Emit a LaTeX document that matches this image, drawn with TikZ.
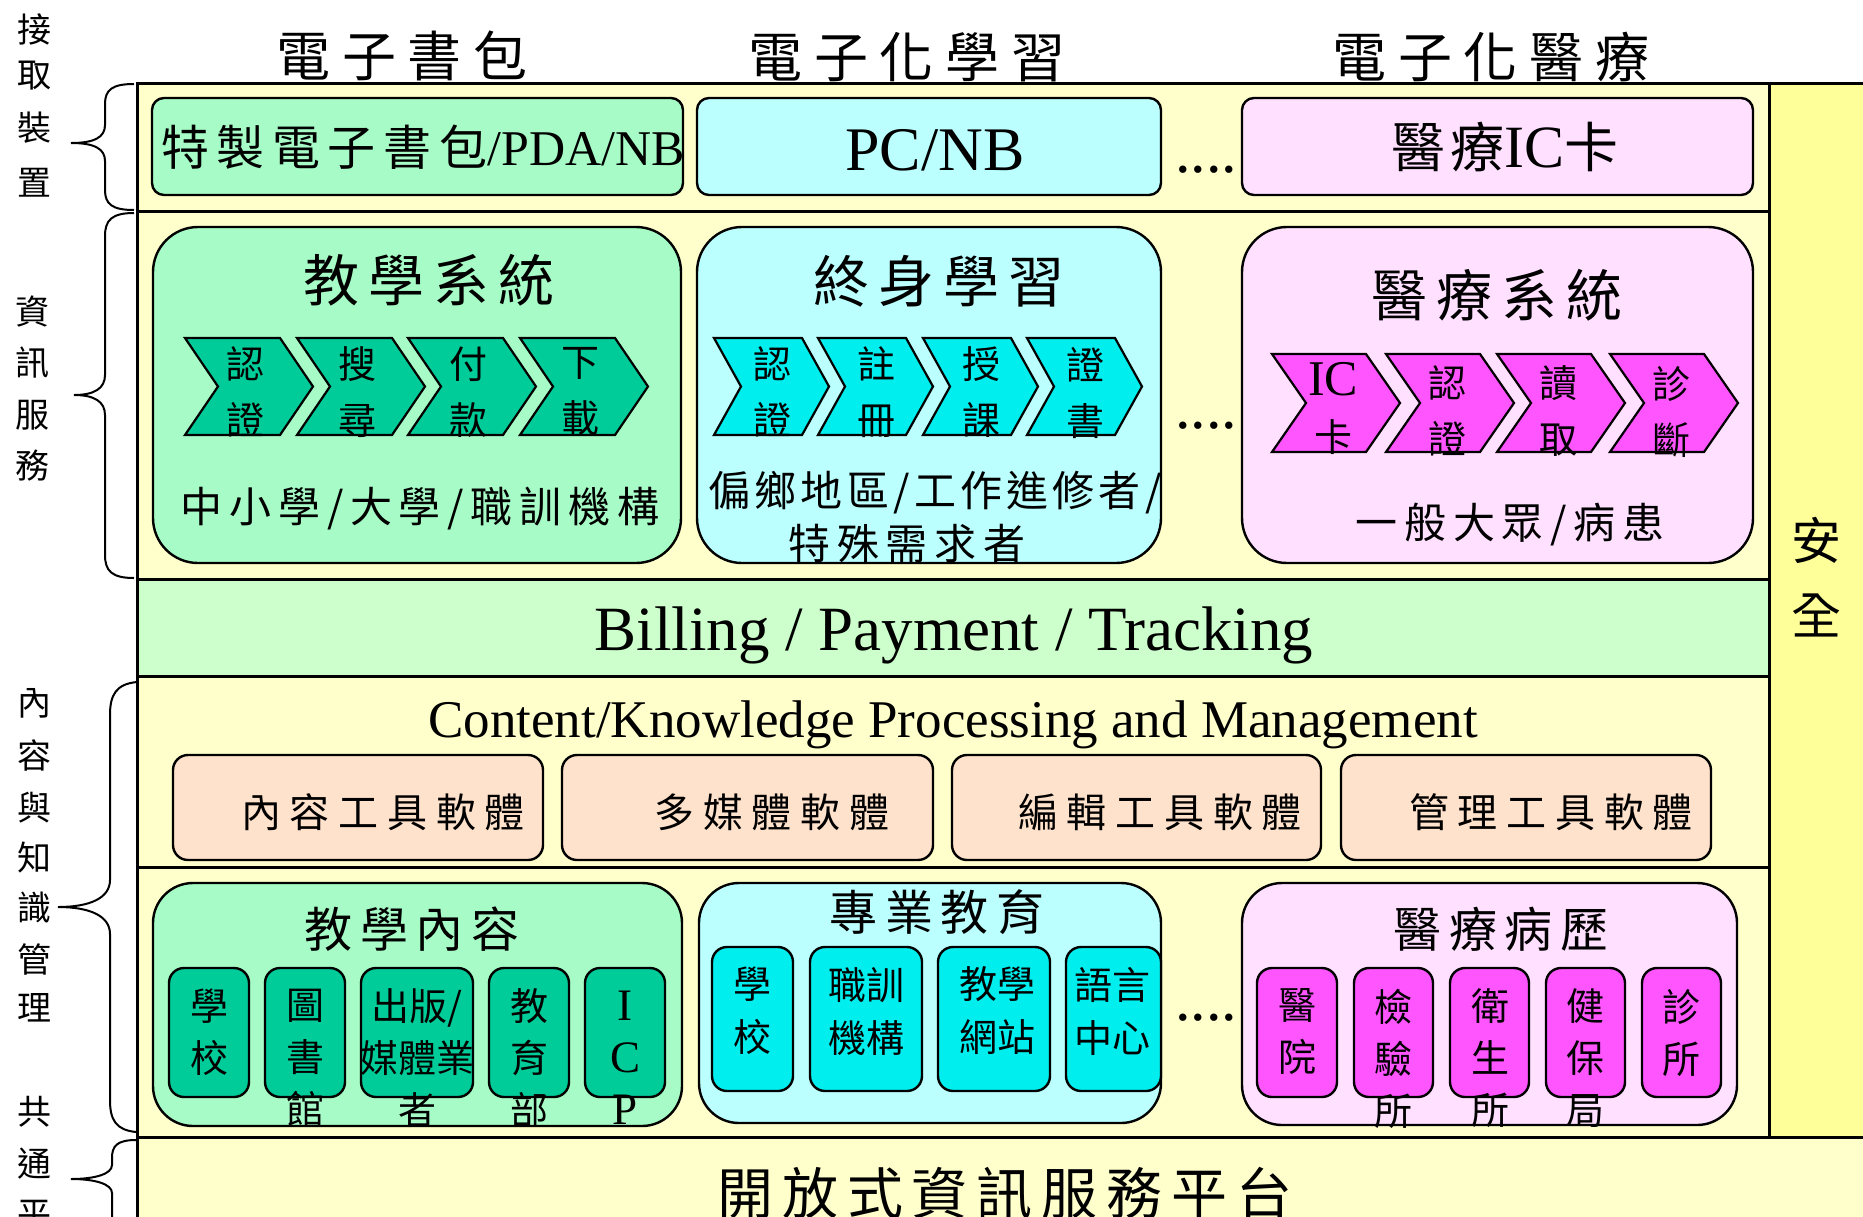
\documentclass[tikz,border=0pt]{standalone}
\usepackage{fontspec}
\setmainfont{Liberation Serif}
\newfontfamily\cjk{Noto Sans CJK TC}
\newfontfamily\cjkw{Noto Sans CJK TC}[LetterSpace=16]
\newfontfamily\cjkx{Noto Sans CJK TC}[LetterSpace=22]
\newfontfamily\cjkm{Noto Sans CJK TC}[LetterSpace=10]
\usetikzlibrary{fit}
\newcommand\fsz[2]{\fontsize{#1}{#2}\selectfont}
\definecolor{bgY}{RGB}{255,255,204}
\definecolor{secY}{RGB}{255,255,153}
\definecolor{lgreen}{RGB}{166,251,198}
\definecolor{bill}{RGB}{204,255,204}
\definecolor{lcyan}{RGB}{187,255,255}
\definecolor{lpink}{RGB}{255,224,255}
\definecolor{dgreen}{RGB}{0,204,153}
\definecolor{dcyan}{RGB}{0,238,238}
\definecolor{dmag}{RGB}{255,85,255}
\definecolor{peach}{RGB}{255,226,204}
\tikzset{
  every node/.style={inner sep=0pt, outer sep=0pt},
  band/.style={draw=black, line width=3pt},
  card/.style={draw=black, line width=2.4pt, rounded corners=#1},
  card/.default=12pt,
  chevline/.style={draw=black, line width=2.2pt, line join=miter},
  bracel/.style={draw=black, line width=2pt},
  side/.style={font=\cjk\fsz{34}{40}},
  bigtitle/.style={font=\cjkx\fsz{54}{60}},
  boxtitle/.style={font=\cjkw\fsz{56}{62}},
  subtitle/.style={font=\cjkw\fsz{42}{48}},
  chevtext/.style={anchor=north, align=center, font=\cjk\fsz{38}{56}},
  subtext/.style={anchor=north, align=center, font=\cjk\fsz{38}{52}},
  toolt/.style={font=\cjkx\fsz{40}{46}},
  dots/.style={anchor=base, font=\fsz{62}{64}},
}
\newcommand\chevshape[6]{\draw[chevline, fill=#6] (#1,#2) -- ++({#4-#5},0) -- ++(#5,{(#3-#2)/2}) -- ++({-#5},{(#3-#2)/2}) -- ++({#5-#4},0) -- ++(#5,{(#2-#3)/2}) -- cycle;}
\begin{document}
\begin{tikzpicture}[x=1pt,y=-1pt]
\clip (0,0) rectangle (1863,1216);
\fill[white] (0,0) rectangle (1863,1216);
% ---------- bands ----------
\node[band, fill=secY, fit={(1769,83) (1885,1137)}] (safe) {};
\node[band, fill=bgY, fit={(137,83) (1769,211)}] (row1) {};
\node[band, fill=bgY, fit={(137,211) (1769,579)}] (row2) {};
\node[band, fill=bill, fit={(137,579) (1769,676)}] (row3) {};
\node[band, fill=bgY, fit={(137,676) (1769,867)}] (row4) {};
\node[band, fill=bgY, fit={(137,867) (1769,1137)}] (row5) {};
\node[band, fill=bgY, fit={(137,1137) (1885,1240)}] (row6) {};
% ---------- top titles ----------
\node[bigtitle] (tt1) at (402,56) {電子書包};
\node[bigtitle] (tt2) at (907,57) {電子化學習};
\node[bigtitle] (tt3) at (1491,57) {電子化醫療};
% ---------- row 1 ----------
\node[card, fill=lgreen, fit={(152,98) (683,195)}] (d1) {};
\node[card, fill=lcyan, fit={(697,98) (1161,195)}] (d2) {};
\node[card, fill=lpink, fit={(1242,98) (1753,195)}] (d3) {};
\node[anchor=west] (d1t) at (161,147) {\cjkw\fsz{48}{54}特製電子書包\rmfamily\fsz{50}{58}/PDA/NB};
\node (d2t) at (935,150) {\fsz{62}{70}PC/NB};
\node (d3t) at (1505,147) {\cjkm\fsz{54}{60}醫療\rmfamily\fsz{60}{62}IC\cjkm\fsz{54}{60}卡};
\node[dots] (dots1) at (1206,172) {....};
% ---------- row 2 ----------
\node[card=45pt, fill=lgreen, fit={(153,227) (681,563)}] (s1) {};
\node[card=45pt, fill=lcyan, fit={(697,227) (1161,563)}] (s2) {};
\node[card=45pt, fill=lpink, fit={(1242,227) (1753,563)}] (s3) {};
\node[boxtitle] (s1t) at (429,280) {教學系統};
\node[boxtitle] (s2t) at (939,281) {終身學習};
\node[boxtitle] (s3t) at (1497,295) {醫療系統};
% chevrons
\chevshape{185}{338}{435}{128}{33}{dgreen}
\chevshape{297}{338}{435}{128}{33}{dgreen}
\chevshape{408}{338}{435}{128}{33}{dgreen}
\chevshape{520}{338}{435}{128}{33}{dgreen}
\chevshape{714}{338}{435}{115}{27}{dcyan}
\chevshape{818}{338}{435}{115}{27}{dcyan}
\chevshape{923}{338}{435}{115}{27}{dcyan}
\chevshape{1027}{338}{435}{115}{27}{dcyan}
\chevshape{1272}{354}{452}{128}{34}{dmag}
\chevshape{1386}{354}{452}{128}{34}{dmag}
\chevshape{1497}{354}{452}{128}{34}{dmag}
\chevshape{1610}{354}{452}{128}{34}{dmag}
\node[chevtext] (g1) at (245,347) {認\\證};
\node[chevtext] (g2) at (357,347) {搜\\尋};
\node[chevtext] (g3) at (468,347) {付\\款};
\node[chevtext] (g4) at (580,347) {下\\載};
\node[chevtext] (c1) at (772,347) {認\\證};
\node[chevtext] (c2) at (876,347) {註\\冊};
\node[chevtext] (c3) at (981,347) {授\\課};
\node[chevtext] (c4) at (1085,347) {證\\書};
\node[chevtext] (m1) at (1333,362) {{\rmfamily\fsz{50}{56}IC}\\卡};
\node[chevtext] (m2) at (1447,366) {認\\證};
\node[chevtext] (m3) at (1558,366) {讀\\取};
\node[chevtext] (m4) at (1671,366) {診\\斷};
\node[subtitle] (s1u) at (420,509) {中小學/大學/職訓機構};
\node[subtitle, font=\cjkm\fsz{42}{48}] (s2u) at (935,493) {偏鄉地區/工作進修者/};
\node[subtitle] (s2v) at (907,544) {特殊需求者};
\node[subtitle] (s3u) at (1510,525) {一般大眾/病患};
\node[dots] (dots2) at (1206,428) {....};
% ---------- row 3 ----------
\node[anchor=base, font=\fsz{63}{70}] (billt) at (954,650) {Billing / Payment / Tracking};
% ---------- row 4 ----------
\node[anchor=base, font=\fsz{53}{60}] (ckt) at (953,737) {Content/Knowledge Processing and Management};
\node[card=15pt, fill=peach, fit={(173,755) (543,860)}] (p1) {};
\node[card=15pt, fill=peach, fit={(562,755) (933,860)}] (p2) {};
\node[card=15pt, fill=peach, fit={(952,755) (1321,860)}] (p3) {};
\node[card=15pt, fill=peach, fit={(1341,755) (1711,860)}] (p4) {};
\node[toolt] (p1t) at (383,812) {內容工具軟體};
\node[toolt] (p2t) at (772,812) {多媒體軟體};
\node[toolt] (p3t) at (1160,812) {編輯工具軟體};
\node[toolt] (p4t) at (1551,812) {管理工具軟體};
% ---------- row 5 ----------
\node[card=40pt, fill=lgreen, fit={(153,883) (682,1126)}] (k1) {};
\node[card=40pt, fill=lcyan, fit={(699,883) (1161,1123)}] (k2) {};
\node[card=40pt, fill=lpink, fit={(1242,883) (1737,1125)}] (k3) {};
\node[font=\cjkw\fsz{48}{54}] (k1t) at (412,929) {教學內容};
\node[font=\cjkw\fsz{48}{54}] (k2t) at (937,912) {專業教育};
\node[font=\cjkw\fsz{48}{54}] (k3t) at (1501,929) {醫療病歷};
% green sub boxes
\node[card=15pt, fill=dgreen, fit={(169,968) (249,1097)}] (gb1) {};
\node[card=15pt, fill=dgreen, fit={(265,968) (345,1097)}] (gb2) {};
\node[card=15pt, fill=dgreen, fit={(361,968) (473,1097)}] (gb3) {};
\node[card=15pt, fill=dgreen, fit={(489,968) (569,1097)}] (gb4) {};
\node[card=15pt, fill=dgreen, fit={(585,968) (665,1097)}] (gb5) {};
\node[subtext] (gb1t) at (209,989) {學\\校};
\node[subtext] (gb2t) at (305,989) {圖\\書\\館};
\node[subtext] (gb3t) at (417,989) {出版/\\媒體業\\者};
\node[subtext] (gb4t) at (529,989) {教\\育\\部};
\node[subtext, font=\fsz{45}{52}] (gb5t) at (625,991) {I\\C\\P};
% cyan sub boxes
\node[card=15pt, fill=dcyan, fit={(712,947) (793,1091)}] (cb1) {};
\node[card=15pt, fill=dcyan, fit={(810,947) (922,1091)}] (cb2) {};
\node[card=15pt, fill=dcyan, fit={(938,947) (1050,1091)}] (cb3) {};
\node[card=15pt, fill=dcyan, fit={(1066,947) (1161,1091)}] (cb4) {};
\node[subtext, font=\cjk\fsz{38}{53}] (cb1t) at (752,967) {學\\校};
\node[subtext, font=\cjk\fsz{38}{53}] (cb2t) at (866,967) {職訓\\機構};
\node[subtext, font=\cjk\fsz{38}{53}] (cb3t) at (997,967) {教學\\網站};
\node[subtext, font=\cjk\fsz{38}{53}] (cb4t) at (1112,967) {語言\\中心};
\node[dots] (dots3) at (1206,1020) {....};
% magenta sub boxes
\node[card=15pt, fill=dmag, fit={(1257,968) (1337,1097)}] (mb1) {};
\node[card=15pt, fill=dmag, fit={(1354,968) (1433,1097)}] (mb2) {};
\node[card=15pt, fill=dmag, fit={(1450,968) (1529,1097)}] (mb3) {};
\node[card=15pt, fill=dmag, fit={(1546,968) (1625,1097)}] (mb4) {};
\node[card=15pt, fill=dmag, fit={(1642,968) (1721,1097)}] (mb5) {};
\node[subtext] (mb1t) at (1297,989) {醫\\院};
\node[subtext] (mb2t) at (1393,989) {檢\\驗\\所};
\node[subtext] (mb3t) at (1490,989) {衛\\生\\所};
\node[subtext] (mb4t) at (1585,989) {健\\保\\局};
\node[subtext] (mb5t) at (1681,989) {診\\所};
% ---------- row 6 ----------
\node[font=\cjkw\fsz{56}{62}] (plat) at (1005,1193) {開放式資訊服務平台};
% ---------- safety ----------
\node[font=\cjk\fsz{50}{56}] (an) at (1816,540) {安};
\node[font=\cjk\fsz{50}{56}] (quan) at (1816,615) {全};
% ---------- left labels ----------
\node[side] (l1) at (34,29) {接};
\node[side] (l2) at (34,76) {取};
\node[side] (l3) at (34,128) {裝};
\node[side] (l4) at (34,183) {置};
\node[side] (l5) at (33,312) {資};
\node[side] (l6) at (33,363) {訊};
\node[side] (l7) at (33,415) {服};
\node[side] (l8) at (33,466) {務};
\node[side] (l9) at (34,703) {內};
\node[side] (l10) at (34,755) {容};
\node[side] (l11) at (34,808) {與};
\node[side] (l12) at (34,857) {知};
\node[side] (l13) at (34,908) {識};
\node[side] (l14) at (34,959) {管};
\node[side] (l15) at (34,1008) {理};
\node[side] (l16) at (34,1112) {共};
\node[side] (l17) at (34,1164) {通};
\node[side] (l18) at (34,1215) {平};
% ---------- braces ----------
\draw[bracel] (134,84) .. controls (112,84) and (105,90) .. (105,104) -- (105,125) .. controls (105,137) and (95,143) .. (71,143) .. controls (95,143) and (105,149) .. (105,161) -- (105,190) .. controls (105,204) and (112,210) .. (134,210);
\draw[bracel] (134,213) .. controls (112,213) and (105,220) .. (105,236) -- (105,375) .. controls (105,388) and (95,395) .. (74,395) .. controls (95,395) and (105,402) .. (105,415) -- (105,555) .. controls (105,571) and (112,578) .. (134,578);
\draw[bracel] (137,682) .. controls (116,684) and (110,695) .. (110,715) -- (110,880) .. controls (110,898) and (90,907) .. (58,907) .. controls (90,907) and (110,916) .. (110,934) -- (110,1100) .. controls (110,1120) and (116,1130) .. (136,1132);
\draw[bracel] (136,1140) .. controls (117,1140) and (112,1146) .. (112,1158) -- (112,1165) .. controls (112,1174) and (95,1179) .. (71,1179) .. controls (95,1179) and (112,1184) .. (112,1193) -- (112,1230);
\end{tikzpicture}
\end{document}
